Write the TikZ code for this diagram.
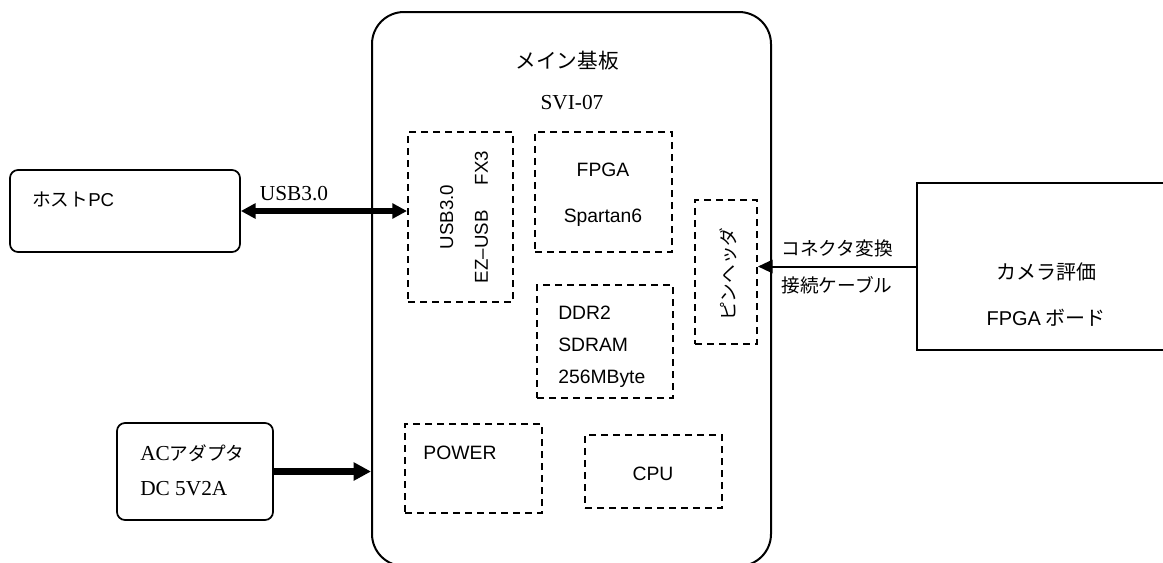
\documentclass[tikz,border=0pt]{standalone}
\usepackage{fontspec}
\setmainfont{Liberation Serif}
\setsansfont{Liberation Sans}
\newfontfamily\jpfont{Noto Sans CJK JP}
\usetikzlibrary{positioning,arrows.meta,fit}

\begin{document}
\begin{tikzpicture}[
        x=0.75pt, y=-0.75pt,
        board/.style={draw, line width=1.5pt, rounded corners=24pt, inner sep=0pt},
        part/.style={draw, line width=1.5pt, dash pattern=on 5.5pt off 3.5pt, inner sep=0pt},
        ext/.style={draw, line width=1.3pt, rounded corners=6pt, inner sep=0pt},
        cam/.style={draw, line width=1.3pt, inner sep=0pt},
        sans/.style={font=\sffamily\fontsize{14.5}{24}\selectfont, inner sep=0pt},
        jp/.style={font=\jpfont\fontsize{14}{26}\selectfont, inner sep=0pt},
        serif/.style={font=\fontsize{16}{26}\selectfont, inner sep=0pt},
        bus/.style={line width=4pt, {Triangle[length=11pt,width=11pt]}-{Triangle[length=11pt,width=11pt]}},
        pwr/.style={line width=5pt, -{Triangle[length=13pt,width=13pt]}},
        sig/.style={line width=1.5pt, -{Triangle[length=11pt,width=10pt]}}
    ]
    \useasboundingbox (0,0) rectangle (1163,562);
    \clip (0,0) rectangle (1163,562);

    % main board and its parts
    \node[board, fit={(372,12) (771,566)}] (main) {};
    \node[jp, font=\jpfont\fontsize{15.5}{18}\selectfont] (title) at (567,61) {メイン基板};
    \node[serif] (model) at (572,103) {SVI-07};

    \node[part, fit={(408,132) (513,302)}] (usb) {};
    \node[sans, font=\sffamily\fontsize{14}{26}\selectfont, align=center, rotate=90] (usbtxt) at (464,217)
        {USB3.0\\EZ--USB\hspace{19pt}FX3};

    \node[part, fit={(535,132) (672,252)}] (fpga) {};
    \node[sans, font=\sffamily\fontsize{14.5}{34.5}\selectfont, align=center] (fpgatxt) at (603,195)
        {FPGA\\Spartan6};

    \node[part, fit={(537,285) (673,398)}] (ddr) {};
    \node[sans, align=left, anchor=west] (ddrtxt) at (558,347) {DDR2\\SDRAM\\256MByte};

    \node[part, fit={(695,200) (757,344)}] (hdr) {};
    \node[jp, rotate=90] (hdrtxt) at (728,274) {ピンヘッダ};

    \node[part, fit={(405,424) (542,513)}] (power) {};
    \node[sans] (powertxt) at (460,453) {POWER};

    \node[part, fit={(585,435) (722,508)}] (cpu) {};
    \node[sans] (cputxt) at (653,474) {CPU};

    % outside
    \node[ext, fit={(10,170) (240,252)}] (host) {};
    \node[jp, anchor=west] (hosttxt) at (32,199) {ホスト{\sffamily PC}};

    \node[ext, fit={(117,423) (273,520)}] (ac) {};
    \node[serif, align=left, anchor=west] (actxt) at (140,470.5)
        {AC{\jpfont\fontsize{14}{26}\selectfont アダプタ}\\DC 5V2A};

    \node[cam, fit={(917,183) (1175,350)}] (camera) {};
    \node[jp, font=\jpfont\fontsize{15}{34.5}\selectfont, align=center] (camtxt) at (1046,295)
        {カメラ評価\\{\sffamily FPGA} ボード};

    % connections
    \draw[bus] (host.east) -- node[serif, pos=0.32, above=6pt] (usblab) {USB3.0} (host.east -| usb.west);
    \draw[pwr] (ac.east) -- (ac.east -| main.west);
    \draw[sig] (camera.west) -- node[jp, above=6pt] (cablab1) {コネクタ変換}
        node[jp, below=7pt] (cablab2) {接続ケーブル} (camera.west -| hdr.east);
\end{tikzpicture}
\end{document}
